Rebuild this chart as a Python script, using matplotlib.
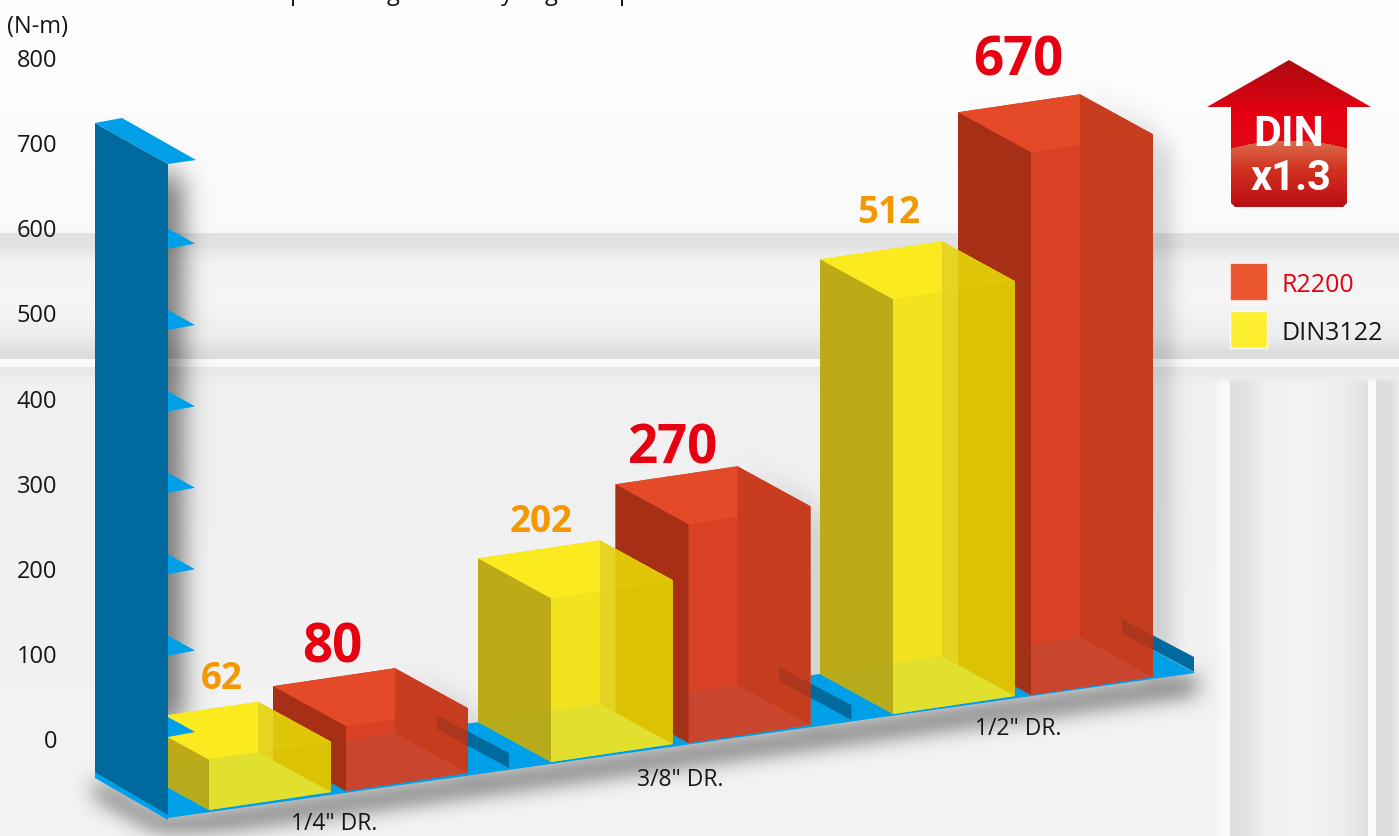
#!/usr/bin/env python

# import libraries
import numpy as np
import matplotlib
matplotlib.use('Agg')
import matplotlib.pyplot as plt
from matplotlib.path import Path
from matplotlib.patches import Polygon, Rectangle

plt.rcParams['font.family'] = ['Open Sans', 'DejaVu Sans']

# chart values
categories = ['1/4" DR.', '3/8" DR.', '1/2" DR.']
din3122 = [62, 202, 512]
r2200 = [80, 270, 670]
axis_ticks = [0, 100, 200, 300, 400, 500, 600, 700, 800]
wall_ticks = [0, 100, 200, 300, 400, 500, 600]
series_names = ['R2200', 'DIN3122']

W, H = 1399, 836
BAR_SCALE = 0.81
WALL_SCALE = 0.814
AXIS_SCALE = 0.85125


def grid_points():
    xx, yy = np.meshgrid(np.arange(W) + 0.5, np.arange(H) + 0.5)
    return np.column_stack([xx.ravel(), yy.ravel()])


def box_blur(a, size):
    kernel = np.ones(size) / size
    for _ in range(3):
        a = np.apply_along_axis(lambda r: np.convolve(r, kernel, mode='same'), 0, a)
        a = np.apply_along_axis(lambda r: np.convolve(r, kernel, mode='same'), 1, a)
    return a


def add_shadow(bg, poly, blur, strength):
    mask = Path(poly).contains_points(PTS).reshape(H, W).astype(float)
    return bg * (1 - strength * box_blur(mask, blur))


def box_points(fx, fy, value):
    # corners of a bar, from its front-left foot and its value
    h = value * BAR_SCALE
    feet = {'fl': (fx, fy), 'fr': (fx + 122, fy - 18), 'bl': (fx - 73, fy - 40), 'br': (fx + 49, fy - 58)}
    tops = {k: (p[0], p[1] - h) for k, p in feet.items()}
    return feet, tops


def poly(ax, pts, color, z, alpha=None):
    ax.add_patch(Polygon(pts, closed=True, facecolor=color, edgecolor='none', alpha=alpha, zorder=z))


def draw_box(ax, fx, fy, value, c, z, overlap_x=None):
    f, t = box_points(fx, fy, value)
    poly(ax, [t['fl'], t['fr'], f['fr'], f['fl']], c['back'], z)
    poly(ax, [t['bl'], t['br'], f['br'], f['bl']], c['back'], z)
    poly(ax, [t['bl'], t['br'], t['fr'], t['fl']], c['top'], z + 0.1)
    poly(ax, [f['bl'], f['br'], f['fr'], f['fl']], c['bottom'], z + 0.15, 0.9)
    poly(ax, [t['bl'], t['fl'], f['fl'], f['bl']], c['left'], z + 0.2, 0.9)
    poly(ax, [t['br'], t['fr'], f['fr'], f['br']], c['right'], z + 0.3)
    if overlap_x is not None:
        # the part of the side face that has the red bar behind it
        k = (overlap_x - t['br'][0]) / (t['fr'][0] - t['br'][0])
        ty = t['br'][1] + k * (t['fr'][1] - t['br'][1])
        fy2 = f['br'][1] + k * (f['fr'][1] - f['br'][1])
        poly(ax, [(overlap_x, ty), t['fr'], f['fr'], (overlap_x, fy2)], c['right_over'], z + 0.35)
    poly(ax, [t['bl'], t['br'], t['fr'], t['fl']], c['top'], z + 0.4, 0.12)


PTS = grid_points()

# background: soft grey panels
ys = [0, 225, 232, 233, 246, 249, 262, 300, 335, 355, 358, 359, 366, 367, 385, 836]
gs = [254, 250, 248, 227, 226, 232, 243, 246, 238, 220, 222, 250, 250, 232, 240, 243]
vertical = np.interp(np.arange(H), ys, gs)
bg = np.tile(vertical[:, None], (1, W))

xs = [1210, 1219, 1220, 1229, 1230, 1246, 1247, 1264, 1300, 1340, 1367, 1368, 1375, 1376, 1390, 1398]
cs = [242, 246, 249, 249, 224, 224, 228, 240, 243, 238, 224, 250, 250, 220, 222, 234]
profile = np.interp(np.arange(W), xs, cs)
for y in range(378, H):
    fade = min(1.0, (y - 377) / 6)
    mix = fade * np.clip((np.arange(W) - 1210) / 8, 0, 1)
    bg[y] = bg[y] * (1 - mix) + profile * mix

# shadows
bg = add_shadow(bg, [(150, 172), (180, 176), (180, 715), (150, 740)], 27, 0.62)
bg = add_shadow(bg, [(95, 780), (168, 820), (1195, 676), (1198, 692), (168, 836), (95, 796)], 21, 0.62)
for i, v in enumerate(r2200):
    fx, fy = 346 + 342.5 * i, 791 - 48 * i
    f, t = box_points(fx, fy, v)
    bg = add_shadow(bg, [t['br'], t['fr'], f['fr'], (f['fr'][0] + 10, f['fr'][1] - 4),
                         (t['fr'][0] + 10, t['fr'][1] + 14)], 23, 0.42)

fig = plt.figure(figsize=(W / 100, H / 100), dpi=100)
ax = fig.add_axes([0, 0, 1, 1])
ax.imshow(np.dstack([bg, bg, bg]) / 255, extent=(0, W, H, 0), aspect='auto', zorder=0, interpolation='bilinear')
ax.set_xlim(0, W)
ax.set_ylim(H, 0)
ax.axis('off')

BLUE = '#00a0e9'
DARK_BLUE = '#006a9e'
TEXT = '#161616'

red = dict(back='#d94124', top='#e44a28', left='#a22e14', right='#c53c1f', bottom='#c84630')
yellow = dict(back='#f2e21f', top='#fbea20', left='#b6a517', right='#e2d222', right_over='#dcc205', bottom='#e0e030')

# floor, with the ragged back edge hidden by the bars
poly(ax, [(168, 818), (1195, 673), (1153, 650), (958, 655), (820, 674), (479, 722), (136, 770)], BLUE, 1)

din_label_dx = [13, -10, -4]
din_label_dy = [85, 80, 90]
r_label_dx = [-14, -15, -13]
r_label_dy = [82, 79, 95]

for i, cat in enumerate(categories):
    dx, dy = 209 + 342 * i, 810 - 48 * i
    rx, ry = 346 + 342.5 * i, 791 - 48 * i
    z = 2 + i * 3

    # fin behind the red bar
    poly(ax, [(rx + 91, ry - 76), (rx + 163, ry - 38), (rx + 163, ry - 23), (rx + 91, ry - 62)], DARK_BLUE, z - 0.5)
    draw_box(ax, rx, ry, r2200[i], red, z)
    poly(ax, [(rx + 91, ry - 76), (rx + 122, ry - 59.5), (rx + 122, ry - 45), (rx + 91, ry - 62)], '#7a2e1c', z + 0.6, 0.32)
    draw_box(ax, dx, dy, din3122[i], yellow, z + 1, overlap_x=rx - 73)

    dtop = dy - din3122[i] * BAR_SCALE
    rtop = ry - r2200[i] * BAR_SCALE
    ax.text(dx + din_label_dx[i], dtop - din_label_dy[i] + 4, str(din3122[i]), color='#f39800', fontsize=26.5,
            fontweight='bold', ha='center', va='center', zorder=20)
    ax.text(rx + r_label_dx[i], rtop - r_label_dy[i] + 4, str(r2200[i]), color='#e60012', fontsize=38,
            fontweight='bold', ha='center', va='center', zorder=20)

ax.text(334, 824, categories[0], fontsize=16.5, color=TEXT, ha='center', va='center', zorder=20)
ax.text(680, 780, categories[1], fontsize=16.5, color=TEXT, ha='center', va='center', zorder=20)
ax.text(1018, 729, categories[2], fontsize=16.5, color=TEXT, ha='center', va='center', zorder=20)

# back wall and its tick fins
poly(ax, [(95, 778), (168, 820), (168, 810), (95, 768)], BLUE, 14)
poly(ax, [(95, 123), (168, 164), (168, 815), (95, 772)], DARK_BLUE, 15)
poly(ax, [(95, 123), (122, 118), (196, 160), (168, 164)], BLUE, 15.5)
for v in wall_ticks:
    y = 732 - v * WALL_SCALE
    poly(ax, [(168, y - 15), (195, y), (168, y + 5)], BLUE, 15)

# axis numbers
for v in axis_ticks:
    ax.text(57, 742 - v * AXIS_SCALE, str(v), fontsize=17, color=TEXT, ha='right', va='center', zorder=20)
ax.text(38, 27, '(N-m)', fontsize=17, color=TEXT, ha='center', va='center', zorder=20)

# title line cropped by the top edge, only the descenders show
for ch, x in zip('pgygp', [297, 393, 507, 551, 626]):
    ax.text(x, 0, ch, fontsize=17, color=TEXT, ha='center', va='baseline', zorder=20)

# DIN x1.3 badge
house = [(1289, 60), (1207, 107), (1231, 107), (1231, 203), (1235, 207), (1343, 207), (1347, 203), (1347, 107), (1371, 107)]
yy, xx = np.mgrid[60:207, 1207:1371]
upper = np.array([np.interp(yy, [60, 115, 150], [a, b, c]) for a, b, c in [(172, 230, 222), (12, 0, 10), (16, 18, 18)]])
lower = np.array([np.interp(yy, [140, 170, 195, 207], [a, b, c, d]) for a, b, c, d in
                  [(218, 208, 196, 178), (108, 48, 24, 14), (76, 32, 24, 18)]])
dome = yy > 140 + ((xx - 1289) / 58.0) ** 2 * 8
img = np.where(dome, lower, upper).transpose(1, 2, 0) / 255
im = ax.imshow(img, extent=(1207, 1371, 207, 60), aspect='auto', zorder=16, interpolation='bilinear')
im.set_clip_path(Polygon(house, closed=True, transform=ax.transData))
ax.set_xlim(0, W)
ax.set_ylim(H, 0)
ax.text(1289, 135, 'DIN', color='white', fontsize=31, fontweight='bold', ha='center', va='center', zorder=20,
        family=['Liberation Sans Narrow', 'Roboto'])
ax.text(1291, 179, 'x1.3', color='white', fontsize=30, fontweight='bold', ha='center', va='center', zorder=20,
        family=['Liberation Sans Narrow', 'Roboto'])

# legend
ax.add_patch(Rectangle((1230, 263), 37, 37, facecolor='#e8552f', edgecolor='#f6d8cc', lw=0.8, zorder=16))
ax.add_patch(Rectangle((1230, 311), 37, 37, facecolor='#fdee30', edgecolor='#fbfbfb', lw=1, zorder=16))
ax.text(1282, 285, series_names[0], color='#e60012', fontsize=18, ha='left', va='center', zorder=20)
ax.text(1282, 333, series_names[1], color=TEXT, fontsize=18, ha='left', va='center', zorder=20)

plt.savefig('out.png', dpi=100)
